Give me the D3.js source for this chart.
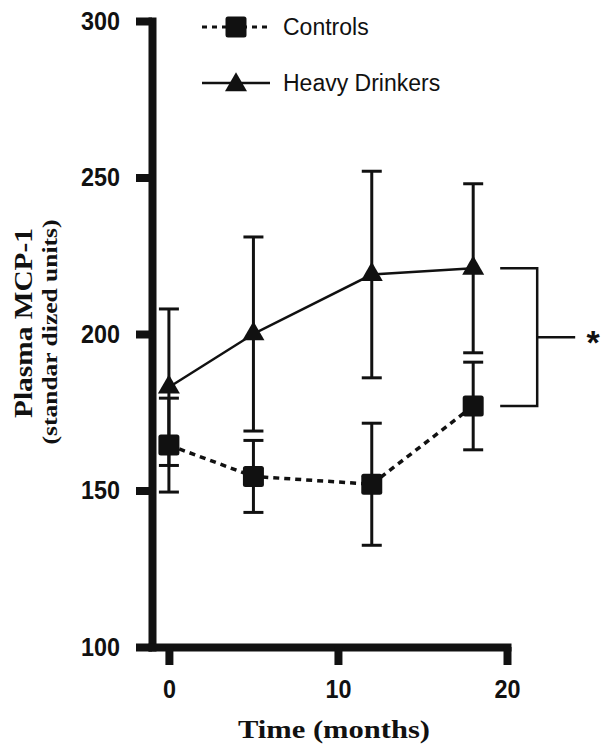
<!DOCTYPE html>
<html>
<head>
<meta charset="utf-8">
<script src="https://cdn.jsdelivr.net/npm/d3@7"></script>
<style>
  body { margin: 0; background: #fff; }
  .tick text { font-family: "Liberation Sans", Arial, sans-serif; font-weight: bold; font-size: 26px; fill: #111; }
</style>
</head>
<body>
<div class="plot"></div>
<script>
// data
const times = [0, 5, 12, 18];
const heavyMean = [183, 200, 219, 221];
const heavyErr = [25, 31, 33, 27];
const controlMean = [164.5, 154.5, 152, 177];
const controlErr = [15, 11.5, 19.5, 14];
const xTicks = [0, 10, 20];
const yTicks = [100, 150, 200, 250, 300];

const width = 603;
const height = 748;
const ink = '#111';

const svg = d3.select('.plot').append('svg')
    .attr('width', width)
    .attr('height', height)

const x = d3.scaleLinear().domain([-1, 20]).range([152, 507]);
const y = d3.scaleLinear().domain([100, 300]).range([647, 21]);

// axes
const yAxis = svg.append('g')
    .attr('transform', 'translate(152,0)')
    .call(d3.axisLeft(y).tickValues(yTicks).tickSize(16).tickSizeOuter(0).tickPadding(16).tickFormat(d3.format('d')))
const xAxis = svg.append('g')
    .attr('transform', 'translate(0,647)')
    .call(d3.axisBottom(x).tickValues(xTicks).tickSize(18).tickSizeOuter(0).tickPadding(15).tickFormat(d3.format('d')))

svg.selectAll('.domain').attr('stroke', ink).attr('stroke-width', 8).attr('stroke-linecap', 'square')
svg.selectAll('.tick line').attr('stroke', ink).attr('stroke-width', 8)
// the original digits are a little condensed
svg.selectAll('.tick text')
    .attr('textLength', d => String(d).length * 13)
    .attr('lengthAdjust', 'spacingAndGlyphs')

// axis titles
svg.append('text')
    .attr('x', 334)
    .attr('y', 738)
    .attr('text-anchor', 'middle')
    .attr('font-family', '"Liberation Serif", "Times New Roman", serif')
    .attr('font-weight', 'bold')
    .attr('font-size', 26)
    .attr('textLength', 192)
    .attr('lengthAdjust', 'spacingAndGlyphs')
    .attr('fill', ink)
    .text('Time (months)')

svg.append('text')
    .attr('transform', 'translate(32,323) rotate(-90)')
    .attr('text-anchor', 'middle')
    .attr('font-family', '"Liberation Serif", "Times New Roman", serif')
    .attr('font-weight', 'bold')
    .attr('font-size', 26)
    .attr('textLength', 190)
    .attr('lengthAdjust', 'spacingAndGlyphs')
    .attr('fill', ink)
    .text('Plasma MCP-1')

svg.append('text')
    .attr('transform', 'translate(57,332) rotate(-90)')
    .attr('text-anchor', 'middle')
    .attr('font-family', '"Liberation Serif", "Times New Roman", serif')
    .attr('font-weight', 'bold')
    .attr('font-size', 21)
    .attr('textLength', 225)
    .attr('lengthAdjust', 'spacingAndGlyphs')
    .attr('fill', ink)
    .text('(standar dized units)')

const series = [
    {name: 'Controls', mean: controlMean, err: controlErr, dash: '6,5', shape: 'square'},
    {name: 'Heavy Drinkers', mean: heavyMean, err: heavyErr, dash: null, shape: 'triangle'}
];

// error bars
series.forEach(s => {
    const g = svg.append('g');
    const rows = times.map((t, i) => ({t: t, lo: s.mean[i] - s.err[i], hi: s.mean[i] + s.err[i]}));
    g.selectAll('line.bar')
        .data(rows)
        .enter()
        .append('line')
        .attr('x1', d => x(d.t)).attr('x2', d => x(d.t))
        .attr('y1', d => y(d.lo)).attr('y2', d => y(d.hi))
        .attr('stroke', ink).attr('stroke-width', 3)
    g.selectAll('line.cap')
        .data(rows.flatMap(d => [{t: d.t, v: d.lo}, {t: d.t, v: d.hi}]))
        .enter()
        .append('line')
        .attr('x1', d => x(d.t) - 10).attr('x2', d => x(d.t) + 10)
        .attr('y1', d => y(d.v)).attr('y2', d => y(d.v))
        .attr('stroke', ink).attr('stroke-width', 3)
});

// lines
const line = d3.line().x(d => x(d[0])).y(d => y(d[1]));
series.forEach(s => {
    svg.append('path')
        .datum(times.map((t, i) => [t, s.mean[i]]))
        .attr('d', line)
        .attr('fill', 'none')
        .attr('stroke', ink)
        .attr('stroke-width', s.dash ? 3.5 : 2.5)
        .attr('stroke-dasharray', s.dash)
});

// markers
const tri = d3.symbol().type(d3.symbolTriangle).size(210);
function marker(g, shape) {
    if (shape == 'square') {
        g.append('rect').attr('x', -10.5).attr('y', -10.5).attr('width', 21).attr('height', 21)
            .attr('rx', 2.5).attr('fill', ink)
    } else {
        g.append('path').attr('d', tri()).attr('fill', ink)
    }
}
series.forEach(s => {
    times.forEach((t, i) => {
        const g = svg.append('g').attr('transform', `translate(${x(t)},${y(s.mean[i])})`);
        marker(g, s.shape);
    });
});

// legend
const legendY = [27, 83];
series.forEach((s, i) => {
    svg.append('line')
        .attr('x1', 202).attr('x2', 270)
        .attr('y1', legendY[i]).attr('y2', legendY[i])
        .attr('stroke', ink)
        .attr('stroke-width', s.dash ? 3 : 2.5)
        .attr('stroke-dasharray', s.dash ? '5,5' : null)
    const g = svg.append('g').attr('transform', `translate(236,${legendY[i] + (s.shape == 'triangle' ? 2 : 0)})`);
    marker(g, s.shape);
    svg.append('text')
        .attr('x', 283)
        .attr('y', legendY[i] + 8)
        .attr('font-family', '"Liberation Sans", Arial, sans-serif')
        .attr('font-size', 23)
        .attr('fill', ink)
        .text(s.name)
});

// significance bracket between the last points
const xb = x(times[3]);
const yTop = y(heavyMean[3]);
const yBot = y(controlMean[3]);
const yMid = (yTop + yBot) / 2;
svg.append('path')
    .attr('d', `M${xb + 27},${yTop}H${xb + 64}V${yBot}H${xb + 27}M${xb + 64},${yMid}H${xb + 102}`)
    .attr('fill', 'none')
    .attr('stroke', ink)
    .attr('stroke-width', 2.5)
svg.append('text')
    .attr('x', 593)
    .attr('y', yMid + 17)
    .attr('text-anchor', 'middle')
    .attr('font-family', '"Liberation Sans", Arial, sans-serif')
    .attr('font-weight', 'bold')
    .attr('font-size', 34)
    .attr('fill', ink)
    .text('*')
</script>
</body>
</html>
